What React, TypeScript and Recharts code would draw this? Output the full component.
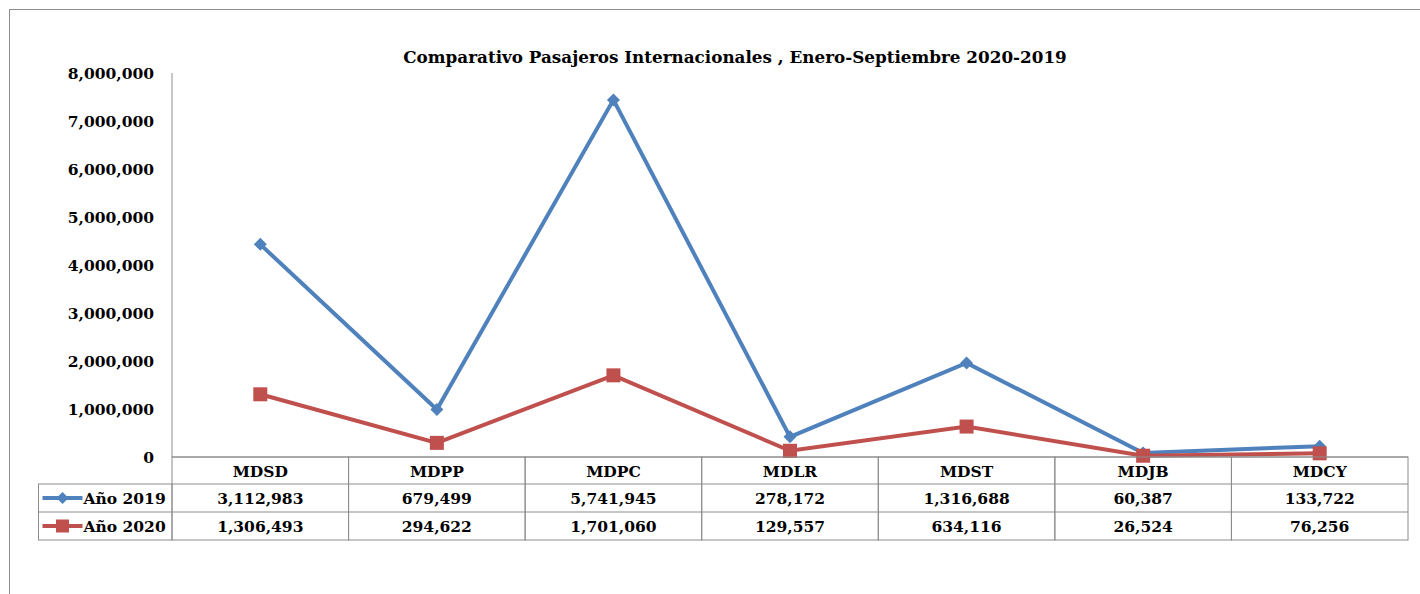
import { LineChart, Line, XAxis, YAxis } from 'recharts';

const categories = ['MDSD', 'MDPP', 'MDPC', 'MDLR', 'MDST', 'MDJB', 'MDCY'];
// points as drawn on the chart
const plotted2019 = [4430000, 990000, 7440000, 420000, 1960000, 85000, 225000];
const plotted2020 = [1306493, 294622, 1701060, 129557, 634116, 26524, 76256];
// values printed in the data table
const table2019 = [3112983, 679499, 5741945, 278172, 1316688, 60387, 133722];
const table2020 = [1306493, 294622, 1701060, 129557, 634116, 26524, 76256];
const seriesNames = ['Año 2019', 'Año 2020'];
const yTicks = [0, 1000000, 2000000, 3000000, 4000000, 5000000, 6000000, 7000000, 8000000];

const data = categories.map((name, i) => ({
  name,
  y2019: plotted2019[i],
  y2020: plotted2020[i],
}));

const W = 1410;
const H = 584;
const MARGIN = { top: 63, right: 12, bottom: 0, left: 0 };
const Y_W = 162;
const X_H = 137;
const COL_W = (W - Y_W - MARGIN.right) / categories.length;
const LEGEND_W = 133.5;
const ROW_H = [27, 28, 28];

const BLUE = '#4F81BD';
const RED = '#C0504D';
const GRID = '#8c8c8c';
const FONT = '"DejaVu Serif", serif';
const FS = 15.5;

const fmt = (v: number) => v.toLocaleString('en-US');

function Diamond({ cx, cy, r, color }: { cx: number; cy: number; r: number; color: string }) {
  return <path d={`M${cx},${cy - r}L${cx + r},${cy}L${cx},${cy + r}L${cx - r},${cy}Z`} fill={color} />;
}

function Square({ cx, cy, r, color }: { cx: number; cy: number; r: number; color: string }) {
  return <rect x={cx - r} y={cy - r} width={r * 2} height={r * 2} fill={color} />;
}

function cellText(x: number, y: number, text: string, anchor: 'middle' | 'start' = 'middle') {
  return (
    <text x={x} y={y} textAnchor={anchor} dominantBaseline="central" fontFamily={FONT} fontWeight="bold" fontSize={FS} fill="#000">
      {text}
    </text>
  );
}

function TableTick(props: any) {
  const { x, y, payload } = props;
  const i = payload.index;
  const left = x - COL_W / 2;
  const r1 = y + ROW_H[0];
  const r2 = r1 + ROW_H[1];
  const r3 = r2 + ROW_H[2];
  const lx = left - LEGEND_W;
  return (
    <g>
      <rect x={left} y={y} width={COL_W} height={r3 - y} fill="none" stroke={GRID} strokeWidth={1} />
      <line x1={left} x2={left + COL_W} y1={r1} y2={r1} stroke={GRID} />
      <line x1={left} x2={left + COL_W} y1={r2} y2={r2} stroke={GRID} />
      {cellText(x, y + ROW_H[0] / 2 + 1, payload.value)}
      {cellText(x, r1 + ROW_H[1] / 2, fmt(table2019[i]))}
      {cellText(x, r2 + ROW_H[2] / 2, fmt(table2020[i]))}
      {i === 0 && (
        <g>
          <rect x={lx} y={r1} width={LEGEND_W} height={r3 - r1} fill="none" stroke={GRID} />
          <line x1={lx} x2={left} y1={r2} y2={r2} stroke={GRID} />
          <line x1={lx + 4} x2={lx + 44} y1={r1 + ROW_H[1] / 2} y2={r1 + ROW_H[1] / 2} stroke={BLUE} strokeWidth={4} />
          <Diamond cx={lx + 24} cy={r1 + ROW_H[1] / 2} r={6} color={BLUE} />
          {cellText(lx + 45, r1 + ROW_H[1] / 2, seriesNames[0], 'start')}
          <line x1={lx + 4} x2={lx + 44} y1={r2 + ROW_H[2] / 2} y2={r2 + ROW_H[2] / 2} stroke={RED} strokeWidth={4} />
          <Square cx={lx + 24} cy={r2 + ROW_H[2] / 2} r={6.5} color={RED} />
          {cellText(lx + 45, r2 + ROW_H[2] / 2, seriesNames[1], 'start')}
        </g>
      )}
    </g>
  );
}

export default function App() {
  return (
    <div
      style={{
        position: 'absolute',
        left: 9,
        top: 9,
        width: 1411,
        height: 585,
        boxSizing: 'border-box',
        borderTop: `1px solid ${GRID}`,
        borderLeft: `1px solid ${GRID}`,
        background: '#fff',
      }}
    >
      <LineChart width={W} height={H} data={data} margin={MARGIN}>
        <text x={725} y={47} textAnchor="middle" dominantBaseline="central" fontFamily={FONT} fontWeight="bold" fontSize={16.8} fill="#000">
          Comparativo Pasajeros Internacionales , Enero-Septiembre 2020-2019
        </text>
        <XAxis
          dataKey="name"
          interval={0}
          height={X_H}
          padding={{ left: COL_W / 2, right: COL_W / 2 }}
          axisLine={{ stroke: GRID }}
          tickLine={false}
          tickSize={0}
          tickMargin={0}
          tick={<TableTick />}
        />
        <YAxis
          width={Y_W}
          domain={[0, 8000000]}
          ticks={yTicks}
          interval={0}
          tickFormatter={fmt}
          axisLine={{ stroke: GRID }}
          tickLine={false}
          tickSize={0}
          tickMargin={18}
          tick={{ fill: '#000', fontFamily: FONT, fontWeight: 'bold', fontSize: FS }}
        />
        <Line
          dataKey="y2019"
          name={seriesNames[0]}
          stroke={BLUE}
          strokeWidth={4}
          isAnimationActive={false}
          dot={(p: any) => <Diamond key={`d${p.index}`} cx={p.cx} cy={p.cy} r={6.5} color={BLUE} />}
          activeDot={false}
        />
        <Line
          dataKey="y2020"
          name={seriesNames[1]}
          stroke={RED}
          strokeWidth={4}
          isAnimationActive={false}
          dot={(p: any) => <Square key={`s${p.index}`} cx={p.cx} cy={p.cy} r={7} color={RED} />}
          activeDot={false}
        />
      </LineChart>
    </div>
  );
}
